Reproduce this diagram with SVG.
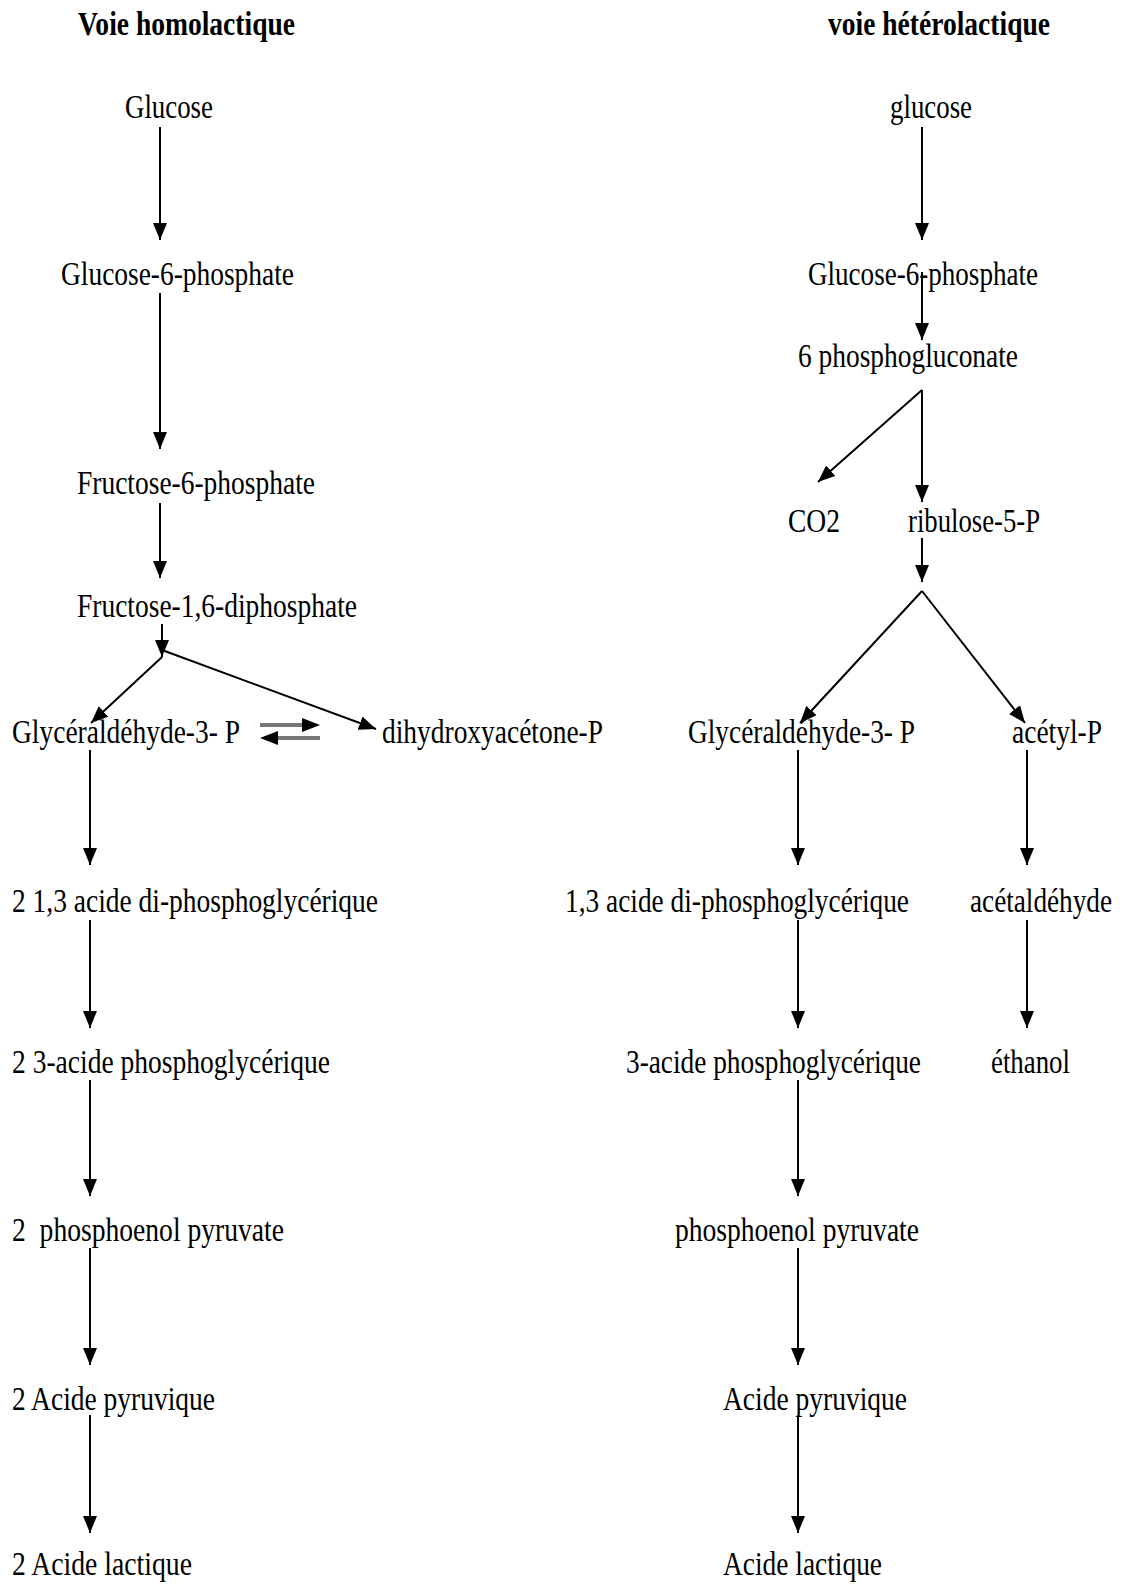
<svg xmlns="http://www.w3.org/2000/svg" width="1123" height="1584" viewBox="0 0 1123 1584">
<style>
text{font-family:"Liberation Serif","Times New Roman",serif;font-size:34px;fill:#000;white-space:pre}
.title{font-weight:bold}
.c{stroke:#000;stroke-width:2;fill:none;marker-end:url(#ah)}
.eq{stroke:#777;stroke-width:4;fill:none}
</style>
<defs>
<marker id="ah" markerUnits="userSpaceOnUse" markerWidth="18" markerHeight="14" refX="17" refY="7" orient="auto">
<path d="M0,0 L17,7 L0,14 z" fill="#000"/>
</marker>
</defs>
<rect width="1123" height="1584" fill="#fff"/>
<g id="left">
<g id="t-homo"><text class="title" transform="translate(78,35) scale(0.8,1)" textLength="271.25" lengthAdjust="spacingAndGlyphs">Voie homolactique</text></g>
<g id="l-glucose"><text transform="translate(125,118) scale(0.8,1)" textLength="110" lengthAdjust="spacingAndGlyphs">Glucose</text></g>
<g id="l-g6p"><text transform="translate(61,285) scale(0.8,1)" textLength="291.25" lengthAdjust="spacingAndGlyphs">Glucose-6-phosphate</text></g>
<g id="l-f6p"><text transform="translate(77,494) scale(0.8,1)" textLength="297.5" lengthAdjust="spacingAndGlyphs">Fructose-6-phosphate</text></g>
<g id="l-f16dp"><text transform="translate(77,617) scale(0.8,1)" textLength="350" lengthAdjust="spacingAndGlyphs">Fructose-1,6-diphosphate</text></g>
<g id="l-g3p"><text transform="translate(12,743) scale(0.8,1)" textLength="285" lengthAdjust="spacingAndGlyphs">Glycéraldéhyde-3- P</text></g>
<g id="l-dhap"><text transform="translate(382,743) scale(0.8,1)" textLength="276.25" lengthAdjust="spacingAndGlyphs">dihydroxyacétone-P</text></g>
<g id="l-dpg"><text transform="translate(12,912) scale(0.8,1)" textLength="457.5" lengthAdjust="spacingAndGlyphs">2 1,3 acide di-phosphoglycérique</text></g>
<g id="l-3pg"><text transform="translate(12,1073) scale(0.8,1)" textLength="397.5" lengthAdjust="spacingAndGlyphs">2 3-acide phosphoglycérique</text></g>
<g id="l-pep"><text transform="translate(12,1241) scale(0.8,1)" textLength="340" lengthAdjust="spacingAndGlyphs" xml:space="preserve">2  phosphoenol pyruvate</text></g>
<g id="l-pyr"><text transform="translate(12,1410) scale(0.8,1)" textLength="253.75" lengthAdjust="spacingAndGlyphs">2 Acide pyruvique</text></g>
<g id="l-lac"><text transform="translate(12,1575) scale(0.8,1)" textLength="225" lengthAdjust="spacingAndGlyphs">2 Acide lactique</text></g>
</g>
<g id="right">
<g id="t-hetero"><text class="title" transform="translate(828,35) scale(0.8,1)" textLength="277.5" lengthAdjust="spacingAndGlyphs">voie hétérolactique</text></g>
<g id="r-glucose"><text transform="translate(890,118) scale(0.8,1)" textLength="102.5" lengthAdjust="spacingAndGlyphs">glucose</text></g>
<g id="r-g6p"><text transform="translate(808,285) scale(0.8,1)" textLength="287.5" lengthAdjust="spacingAndGlyphs">Glucose-6-phosphate</text></g>
<g id="r-6pg"><text transform="translate(798,367) scale(0.8,1)" textLength="275" lengthAdjust="spacingAndGlyphs">6 phosphogluconate</text></g>
<g id="r-co2"><text transform="translate(788,532) scale(0.8,1)" textLength="65" lengthAdjust="spacingAndGlyphs">CO2</text></g>
<g id="r-ru5p"><text transform="translate(908,532) scale(0.8,1)" textLength="165" lengthAdjust="spacingAndGlyphs">ribulose-5-P</text></g>
<g id="r-g3p"><text transform="translate(688,743) scale(0.8,1)" textLength="283.75" lengthAdjust="spacingAndGlyphs">Glycéraldéhyde-3- P</text></g>
<g id="r-acp"><text transform="translate(1012,743) scale(0.8,1)" textLength="112.5" lengthAdjust="spacingAndGlyphs">acétyl-P</text></g>
<g id="r-dpg"><text transform="translate(565,912) scale(0.8,1)" textLength="430" lengthAdjust="spacingAndGlyphs">1,3 acide di-phosphoglycérique</text></g>
<g id="r-acal"><text transform="translate(970,912) scale(0.8,1)" textLength="177.5" lengthAdjust="spacingAndGlyphs">acétaldéhyde</text></g>
<g id="r-3pg"><text transform="translate(626,1073) scale(0.8,1)" textLength="368.75" lengthAdjust="spacingAndGlyphs">3-acide phosphoglycérique</text></g>
<g id="r-eth"><text transform="translate(991,1073) scale(0.8,1)" textLength="98.75" lengthAdjust="spacingAndGlyphs">éthanol</text></g>
<g id="r-pep"><text transform="translate(675,1241) scale(0.8,1)" textLength="305" lengthAdjust="spacingAndGlyphs">phosphoenol pyruvate</text></g>
<g id="r-pyr"><text transform="translate(723,1410) scale(0.8,1)" textLength="230" lengthAdjust="spacingAndGlyphs">Acide pyruvique</text></g>
<g id="r-lac"><text transform="translate(723,1575) scale(0.8,1)" textLength="198.75" lengthAdjust="spacingAndGlyphs">Acide lactique</text></g>
</g>
<g id="connectors">
<line class="c" x1="160" y1="127" x2="160" y2="240"/>
<line class="c" x1="160" y1="293" x2="160" y2="449"/>
<line class="c" x1="160" y1="503" x2="160" y2="578"/>
<line class="c" x1="162" y1="624" x2="162" y2="657"/>
<line class="c" x1="162" y1="657" x2="91" y2="723"/>
<line class="c" x1="162" y1="650" x2="376" y2="729"/>
<line class="eq" x1="260" y1="725" x2="304" y2="725"/>
<path d="M302,718 L320,725 L302,732 z" fill="#000"/>
<line class="eq" x1="320" y1="738" x2="276" y2="738"/>
<path d="M278,731 L260,738 L278,745 z" fill="#000"/>
<line class="c" x1="90" y1="750" x2="90" y2="865"/>
<line class="c" x1="90" y1="920" x2="90" y2="1028"/>
<line class="c" x1="90" y1="1080" x2="90" y2="1196"/>
<line class="c" x1="90" y1="1248" x2="90" y2="1365"/>
<line class="c" x1="90" y1="1415" x2="90" y2="1533"/>
<line class="c" x1="922" y1="127" x2="922" y2="240"/>
<line class="c" x1="922" y1="272" x2="922" y2="340"/>
<line class="c" x1="922" y1="390" x2="922" y2="502"/>
<line class="c" x1="922" y1="390" x2="818" y2="482"/>
<line class="c" x1="922" y1="538" x2="922" y2="582"/>
<line class="c" x1="922" y1="591" x2="800" y2="723"/>
<line class="c" x1="922" y1="591" x2="1025" y2="723"/>
<line class="c" x1="798" y1="750" x2="798" y2="865"/>
<line class="c" x1="798" y1="920" x2="798" y2="1028"/>
<line class="c" x1="798" y1="1080" x2="798" y2="1196"/>
<line class="c" x1="798" y1="1248" x2="798" y2="1365"/>
<line class="c" x1="798" y1="1415" x2="798" y2="1533"/>
<line class="c" x1="1027" y1="750" x2="1027" y2="865"/>
<line class="c" x1="1027" y1="920" x2="1027" y2="1028"/>
</g>
</svg>
